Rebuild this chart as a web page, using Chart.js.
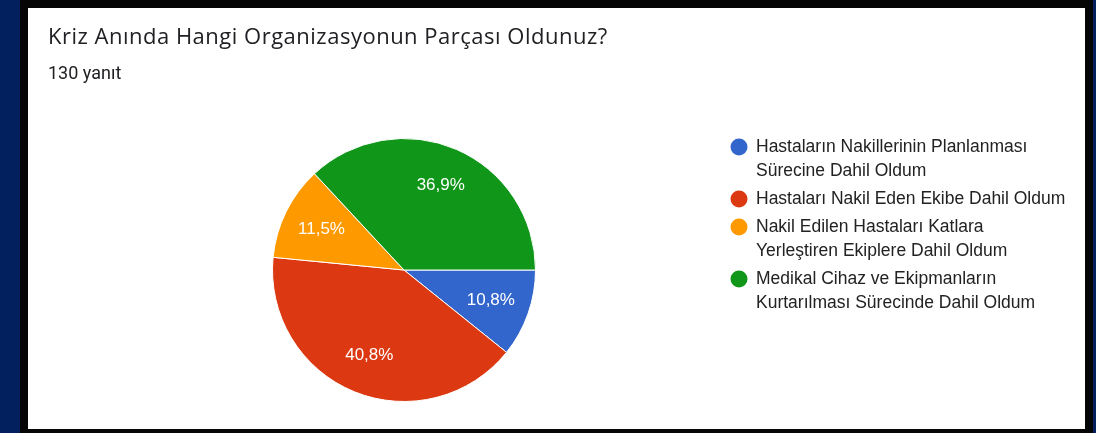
<!DOCTYPE html>
<html>
<head>
<meta charset="utf-8">
<script src="https://cdn.jsdelivr.net/npm/chart.js@4/dist/chart.umd.min.js"></script>
<style>
  html, body { margin: 0; padding: 0; }
  body { width: 1096px; height: 433px; background: #02205e; position: relative; overflow: hidden; }
  #frame { position: absolute; left: 20px; top: 0; width: 1073px; height: 440px; background: #050505; }
  #panel { position: absolute; left: 28px; top: 8px; width: 1057px; height: 421px; background: #fff; }
  #title { position: absolute; left: 20px; top: 13px; font: 22px "Open Sans", Roboto, Arial, sans-serif; letter-spacing: 0.5px; line-height: 28px; color: #202124; white-space: nowrap; }
  #sub { position: absolute; left: 20px; top: 54px; font: 18px Roboto, Arial, sans-serif; line-height: 22px; color: #202124; }
  canvas { position: absolute; left: 0; top: 0; }
</style>
</head>
<body>
<div id="frame"></div>
<div id="panel">
  <canvas id="pieChart" width="1057" height="421"></canvas>
  <div id="title">Kriz Anında Hangi Organizasyonun Parçası Oldunuz?</div>
  <div id="sub">130 yanıt</div>
</div>
<script>
// kategoriler (legend satırları)
var categories = [
  ['Hastaların Nakillerinin Planlanması', 'Sürecine Dahil Oldum'],
  ['Hastaları Nakil Eden Ekibe Dahil Oldum'],
  ['Nakil Edilen Hastaları Katlara', 'Yerleştiren Ekiplere Dahil Oldum'],
  ['Medikal Cihaz ve Ekipmanların', 'Kurtarılması Sürecinde Dahil Oldum']
];
// yanıt sayıları (toplam 130)
var counts = [14, 53, 15, 48];
var colors = ['#3366cc', '#dc3912', '#ff9900', '#109618'];

// dilim içi yüzde etiketleri
var sliceLabels = {
  id: 'sliceLabels',
  afterDatasetsDraw: function (chart) {
    var ctx = chart.ctx;
    var data = chart.data.datasets[0].data;
    var total = data.reduce(function (a, b) { return a + b; }, 0);
    chart.getDatasetMeta(0).data.forEach(function (arc, i) {
      var p = arc.getProps(['x', 'y', 'startAngle', 'endAngle', 'outerRadius']);
      var mid = (p.startAngle + p.endAngle) / 2;
      var r = p.outerRadius * 0.7;
      var txt = (data[i] / total * 100).toFixed(1).replace('.', ',') + '%';
      ctx.save();
      ctx.fillStyle = '#ffffff';
      ctx.font = '17px Arial, "Liberation Sans", sans-serif';
      ctx.textAlign = 'center';
      ctx.textBaseline = 'middle';
      ctx.fillText(txt, p.x + Math.cos(mid) * r, p.y + Math.sin(mid) * r);
      ctx.restore();
    });
  }
};

// sağ taraftaki legend
var sideLegend = {
  id: 'sideLegend',
  afterDraw: function (chart) {
    var ctx = chart.ctx;
    var x = 711, y = 139;
    ctx.save();
    ctx.font = '17.5px Arial, "Liberation Sans", sans-serif';
    ctx.textBaseline = 'middle';
    chart.data.labels.forEach(function (lines, i) {
      ctx.fillStyle = chart.data.datasets[0].backgroundColor[i];
      ctx.beginPath();
      ctx.arc(x, y, 8.5, 0, Math.PI * 2);
      ctx.fill();
      ctx.fillStyle = '#222222';
      lines.forEach(function (line, j) {
        ctx.fillText(line, x + 17, y + j * 24);
      });
      y += lines.length * 24 + 4;
    });
    ctx.restore();
  }
};

var pieChart = new Chart(document.getElementById('pieChart'), {
  type: 'pie',
  data: {
    labels: categories,
    datasets: [{
      data: counts,
      backgroundColor: colors,
      borderColor: '#ffffff',
      borderWidth: 1
    }]
  },
  options: {
    responsive: false,
    animation: false,
    events: [],
    rotation: 90,
    layout: { padding: { left: 244, right: 549, top: 130, bottom: 27 } },
    plugins: {
      legend: { display: false },
      tooltip: { enabled: false }
    }
  },
  plugins: [sliceLabels, sideLegend]
});
</script>
</body>
</html>
